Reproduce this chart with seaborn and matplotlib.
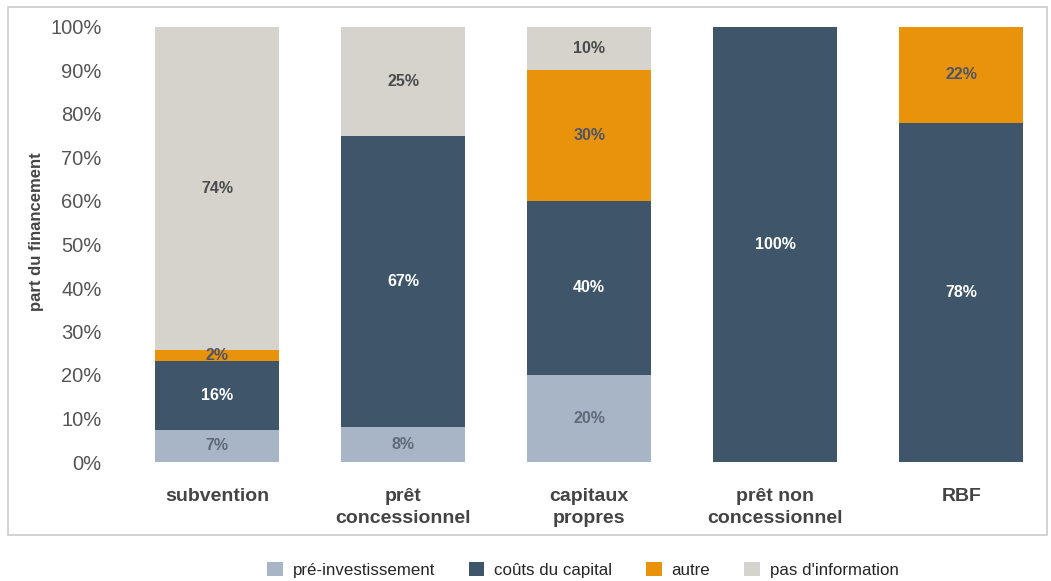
import matplotlib
matplotlib.use("Agg")
import matplotlib.pyplot as plt
import seaborn as sns
import numpy as np
import pandas as pd
from matplotlib.patches import Rectangle, Patch

categories = ["subvention", "prêt\nconcessionnel", "capitaux\npropres", "prêt non\nconcessionnel", "RBF"]
series_names = ["pré-investissement", "coûts du capital", "autre", "pas d'information"]
pre_invest = [7.4, 8.0, 20.0, 0.0, 0.0]
couts_capital = [15.9, 67.0, 40.0, 100.0, 78.0]
autre = [2.4, 0.0, 30.0, 0.0, 22.0]
pas_info = [74.3, 25.0, 10.0, 0.0, 0.0]
labels_pre = ["7%", "8%", "20%", "", ""]
labels_couts = ["16%", "67%", "40%", "100%", "78%"]
labels_autre = ["2%", "", "30%", "", "22%"]
labels_info = ["74%", "25%", "10%", "", ""]
yticks = [0, 10, 20, 30, 40, 50, 60, 70, 80, 90, 100]

colors = ["#A8B5C7", "#3F5569", "#E9930D", "#D6D3CD"]
text_colors = ["#5F6A78", "#FFFFFF", "#4E5566", "#4A4A4A"]

sns.set_theme(style="white")
plt.rcParams['font.family'] = ['Liberation Sans', 'DejaVu Sans']

fig = plt.figure(figsize=(10.51, 5.81), dpi=100)
ax = fig.add_axes([110/1051, (581-462)/581, (1045-110)/1051, (462-27)/581])

series = [pre_invest, couts_capital, autre, pas_info]
labels = [labels_pre, labels_couts, labels_autre, labels_info]
cum = np.cumsum(np.array(series), axis=0)

# draw cumulative, largest first
for i in range(len(series) - 1, -1, -1):
    df = pd.DataFrame({"cat": categories, "val": cum[i]})
    sns.barplot(data=df, x="cat", y="val", color=colors[i], width=0.667,
                saturation=1, ax=ax, order=categories, linewidth=0)

for i in range(len(series)):
    for j, cat in enumerate(categories):
        v = series[i][j]
        if v <= 0 or labels[i][j] == "":
            continue
        bottom = cum[i][j] - v
        ax.text(j, bottom + v / 2, labels[i][j], ha="center", va="center",
                fontsize=11.5, fontweight="bold", color=text_colors[i])

ax.set_ylim(0, 100)
ax.set_xlim(-0.575, 4.45)
ax.set_yticks(yticks)
ax.set_yticklabels([f"{t}%" for t in yticks], fontsize=14.5, color="#555555")
ax.set_xticklabels(categories, fontsize=14, fontweight="bold", color="#444444",
                   linespacing=1.35)
ax.tick_params(axis="x", length=0, pad=19)
ax.tick_params(axis="y", length=0, pad=6)
for s in ax.spines.values():
    s.set_visible(False)
ax.set_xlabel("")
ax.set_ylabel("part du financement", fontsize=12, fontweight="bold", color="#444444")
ax.yaxis.set_label_coords(-0.071, 0.53)

# outer frame
fig.patches.append(Rectangle((8/1051, (581-535)/581), (1047-8)/1051, (535-7)/581,
                             transform=fig.transFigure, fill=False,
                             edgecolor="#CCCCCC", linewidth=1.2))

handles = [Patch(facecolor=c, edgecolor="none") for c in colors]
fig.legend(handles, series_names, loc="center", bbox_to_anchor=(583/1051, 1 - 570/581),
           ncol=4, frameon=False, fontsize=12.2, handlelength=0.9, handleheight=0.9,
           columnspacing=2.0, handletextpad=0.6)

fig.savefig("out.png", dpi=100)
